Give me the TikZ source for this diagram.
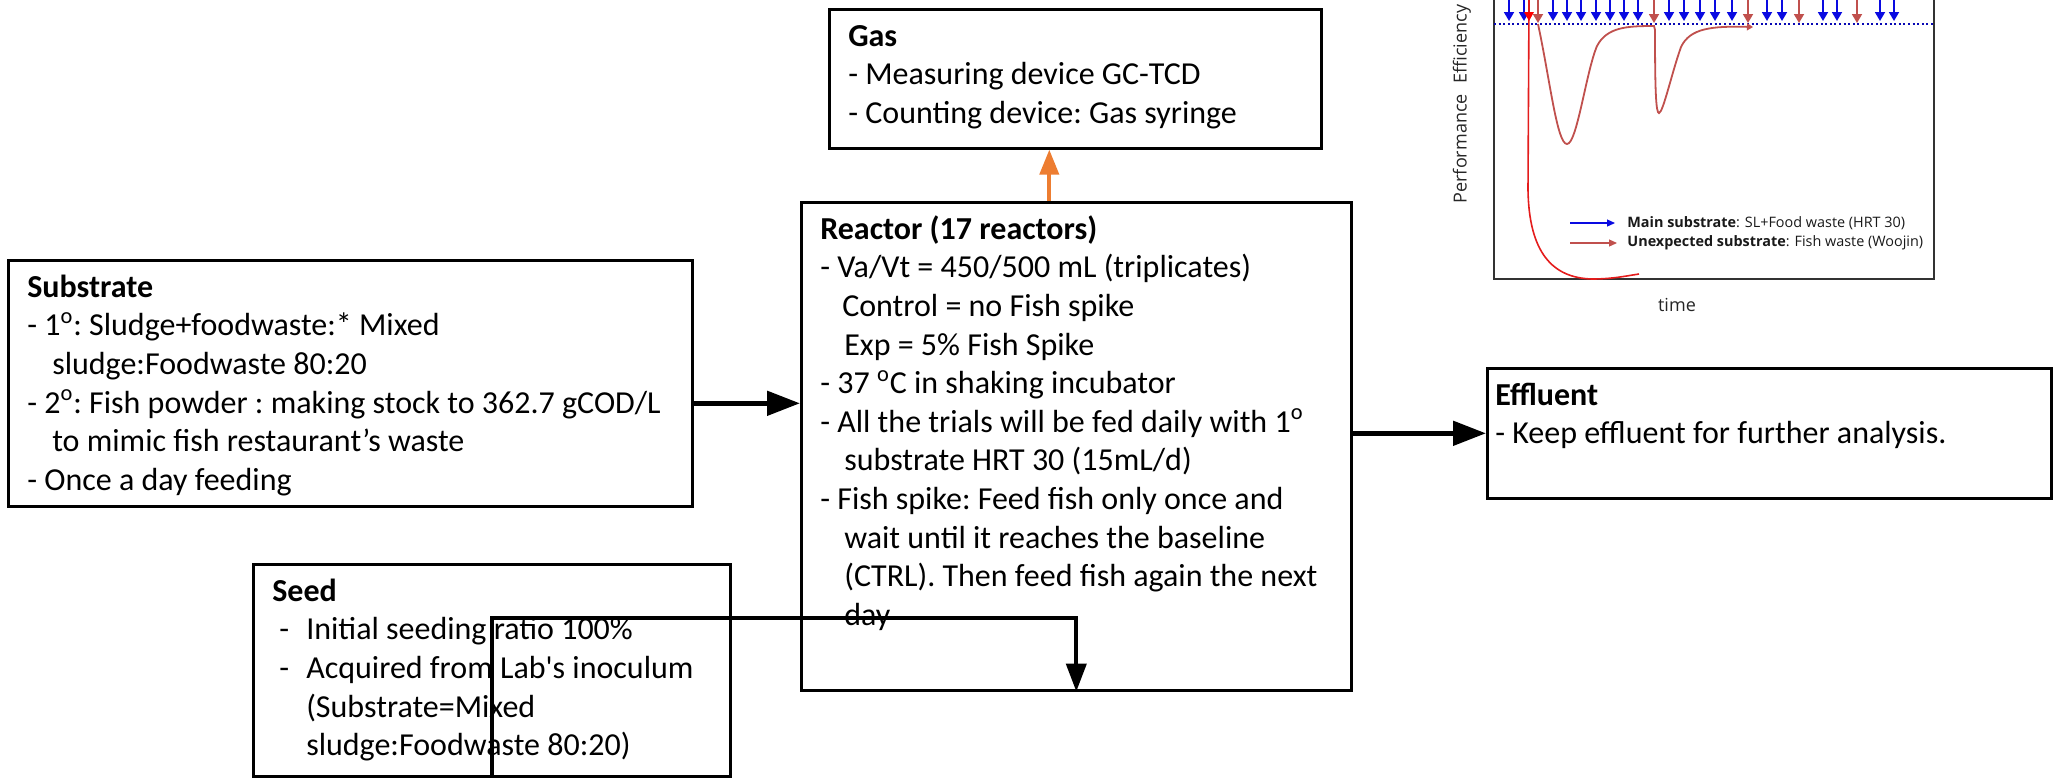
\documentclass[tikz,border=0pt]{standalone}
\usepackage{fontspec}
\setmainfont{Carlito}[Ligatures=TeXOff]
\newfontfamily\chartfont{Open Sans}
\usetikzlibrary{arrows.meta}
\definecolor{gasorange}{RGB}{237,125,49}
\definecolor{fishbrown}{RGB}{192,80,77}
\definecolor{feedblue}{RGB}{10,10,225}
\definecolor{spikered}{RGB}{228,28,28}
\newcommand{\boxtext}[3]{\parbox[c][#2][t]{#1}{\raggedright\frenchspacing\strut #3}}
\newcommand{\seeddash}{\makebox[17pt][l]{\hspace*{3.5pt}-}}

\begin{document}
\begin{tikzpicture}[x=0.5pt,y=-0.5pt,
  box/.style={draw,line width=1.3pt,fill=white,anchor=north west,inner xsep=9.5pt,inner ysep=5pt,
    font=\fontsize{16}{19.3}\selectfont},
  flow/.style={line width=2.5pt,-{Triangle[length=16.5pt,width=12pt]}},
  seedflow/.style={line width=2pt,-{Triangle[length=14pt,width=10pt]}},
  gasflow/.style={draw=gasorange,line width=2pt,-{Triangle[length=12.5pt,width=9.5pt]}},
  blueshot/.style={draw=feedblue,line width=0.9pt,-{Triangle[length=4.5pt,width=5pt]}},
  fishshot/.style={draw=fishbrown,line width=0.9pt,-{Triangle[length=4.5pt,width=5pt]}},
  charttext/.style={font=\chartfont\fontsize{9}{11}\selectfont,text=black!85,inner sep=0pt},
  legendtext/.style={font=\chartfont\fontsize{7.2}{9}\selectfont,text=black!90,inner sep=0pt,anchor=west}]
\useasboundingbox (0,0) rectangle (2053,778);

\node[box] (gas) at (828,8) {\boxtext{227pt}{59.5pt}{\textbf{Gas}\\
- Measuring device GC-TCD\\
- Counting device: Gas syringe}};

\node[box] (reactor) at (800,201) {\boxtext{256pt}{234pt}{\textbf{Reactor (17 reactors)}\\
- Va/Vt = 450/500 mL (triplicates)\\
\hspace*{11pt}Control = no Fish spike\\
\hspace*{12pt}Exp = 5\% Fish Spike\\
- 37 \textsuperscript{o}C in shaking incubator\\
- All the trials will be fed daily with 1\textsuperscript{o}\\
\hspace*{12pt}substrate HRT 30 (15mL/d)\\
- Fish spike: Feed fish only once and\\
\hspace*{12pt}wait until it reaches the baseline\\
\hspace*{12pt}(CTRL). Then feed fish again the next\\
\hspace*{12pt}day}};

\node[box] (substrate) at (7,259) {\boxtext{323pt}{113pt}{\textbf{Substrate}\\
- 1\textsuperscript{o}: Sludge+foodwaste:* Mixed\\
\hspace*{12.5pt}sludge:Foodwaste 80:20\\
- 2\textsuperscript{o}: Fish powder : making stock to 362.7 gCOD/L\\
\hspace*{12.5pt}to mimic fish restaurant’s waste\\
- Once a day feeding}};

\node[box,inner xsep=4pt] (effluent) at (1486,367) {\boxtext{274pt}{55pt}{\textbf{Effluent}\\
- Keep effluent for further analysis.}};

\node[box] (seed) at (252,563) {\boxtext{219.5pt}{96pt}{\textbf{Seed}\\
\seeddash Initial seeding ratio 100\%\\
\seeddash Acquired from Lab's inoculum\\
\hspace*{17pt}(Substrate=Mixed\\
\hspace*{17pt}sludge:Foodwaste 80:20)}};

\coordinate (subout) at ([yshift=-10pt]substrate.east);
\draw[flow] (subout) -- (subout -| reactor.west);
\draw[flow] (reactor.east |- effluent.west) -- (effluent.west);
\coordinate (gasout) at ([xshift=-13.5pt]reactor.north);
\draw[gasflow] (gasout) -- (gasout |- gas.south);
\draw[seedflow] (seed.south) |- ([yshift=37pt]reactor.south) -- (reactor.south);

\draw[line width=1.2pt,draw=black!80] (1494,0) -- (1494,279) -- (1934,279) -- (1934,0);
\draw[draw=feedblue!80!black,line width=1pt,dash pattern=on 1pt off 1.3pt] (1494,24) -- (1934,24);
\foreach \x in {1509,1524,1553,1567,1581,1596,1610,1624,1638,1669,1684,1700,1715,1732,1767,1782,1823,1837,1880,1894}
  \draw[blueshot] (\x,0) -- (\x,21);
\foreach \x in {1538,1654,1748,1799,1857}
  \draw[fishshot] (\x,0) -- (\x,23);
\draw[draw=spikered,line width=0.8pt] (1529,0) -- (1528,190) .. controls (1529,252) and (1552,278) .. (1592,279) .. controls (1612,279) and (1626,276) .. (1639,274);
\fill[red] (1524,12) -- (1534,12) -- (1529,21) -- cycle;
\draw[draw=fishbrown,line width=0.9pt,-{Triangle[length=3pt,width=3.5pt]}] (1538,24) .. controls (1550,80) and (1557,144) .. (1567,144) .. controls (1577,144) and (1586,72) .. (1597,46) .. controls (1607,27) and (1627,26) .. (1654,26)
  -- (1655,30) .. controls (1655,92) and (1656,113) .. (1659,113) .. controls (1663,113) and (1672,72) .. (1681,47) .. controls (1690,28) and (1712,26) .. (1753,27);

\node[charttext,rotate=90] (yaxis) at (1462,104) {Performance\hspace{0.6em}Efficiency};
\node[charttext] (xaxis) at (1677,305) {time};
\node[legendtext] (mainleg) at (1627,223) {\textbf{Main substrate}: SL+Food waste (HRT 30)};
\node[legendtext] (fishleg) at (1627,243) {\textbf{Unexpected substrate}: Fish waste (Woojin)};
\draw[draw=feedblue,line width=0.6pt,-{Triangle[length=4pt,width=3.5pt]}] (1570,223) -- (1615,223);
\draw[draw=fishbrown,line width=0.6pt,-{Triangle[length=4pt,width=3.5pt]}] (1570,243) -- (1617,243);
\end{tikzpicture}
\end{document}
